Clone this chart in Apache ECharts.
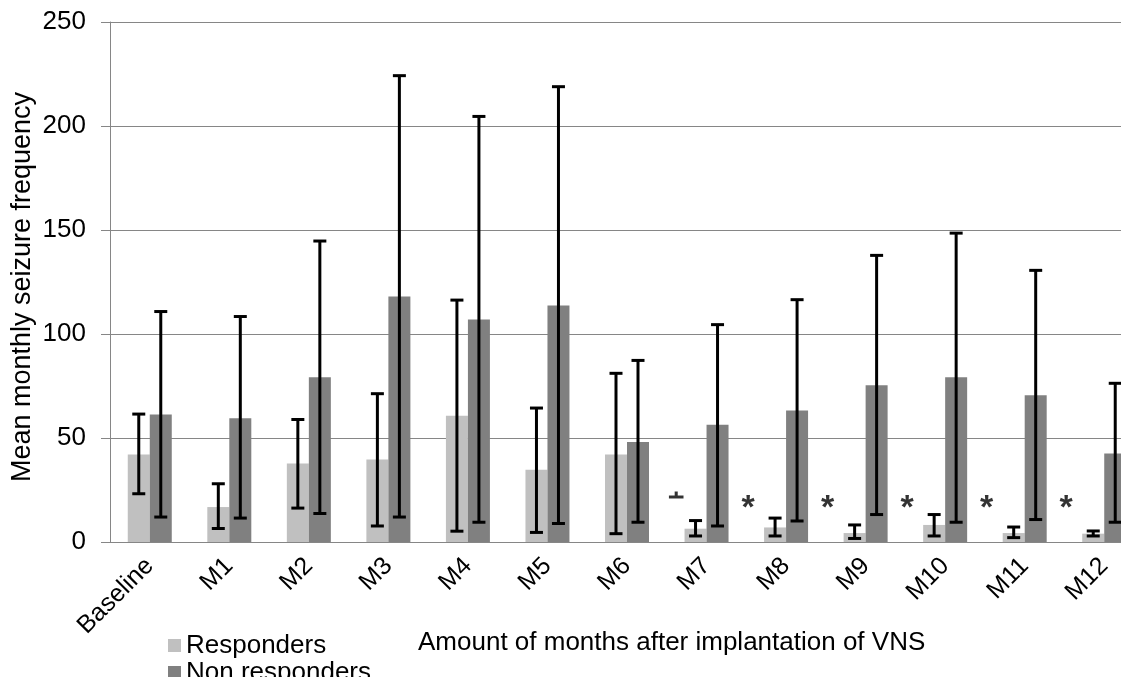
<!DOCTYPE html>
<html>
<head>
<meta charset="utf-8">
<title>Mean monthly seizure frequency</title>
<script src="https://cdn.jsdelivr.net/npm/echarts@6/dist/echarts.min.js"></script>
<style>
  html, body { margin: 0; padding: 0; background: #fff; }
  #chart { width: 1121px; height: 677px; }
</style>
</head>
<body>
<div id="chart"></div>
<script>
// categories on the x axis
var months = ['Baseline', 'M1', 'M2', 'M3', 'M4', 'M5', 'M6', 'M7', 'M8', 'M9', 'M10', 'M11', 'M12'];

// mean monthly seizure frequency
var responders    = [42.1, 16.8, 37.8, 39.7, 60.7, 34.7, 42.1, 6.4, 7.0, 4.3, 8.2, 4.3, 4.0];
var nonResponders = [61.3, 59.5, 79.2, 118.0, 107.0, 113.7, 48.1, 56.4, 63.2, 75.4, 79.2, 70.6, 42.6];

// error bar ends (low / high)
var respLow     = [23.2, 6.5, 16.3, 7.7, 5.2, 4.6, 4.0, 2.9, 2.9, 1.7, 2.9, 2.1, 2.9];
var respHigh    = [61.5, 28.0, 58.9, 71.3, 116.3, 64.4, 81.1, 10.3, 11.5, 8.2, 13.2, 7.2, 5.3];
var nonRespLow  = [12.0, 11.5, 13.7, 12.0, 9.5, 8.9, 9.5, 7.7, 10.1, 13.2, 9.5, 10.8, 9.5];
var nonRespHigh = [110.8, 108.4, 144.7, 224.2, 204.6, 218.9, 87.3, 104.5, 116.5, 137.8, 148.5, 130.6, 76.3];

// significance marks
var sigMonths = ['M7', 'M8', 'M9', 'M10', 'M11', 'M12'];
var sigMarks  = ['\u2238', '*', '*', '*', '*', '*'];
var sigLevel  = 21;

var yTicks = { min: 0, max: 250, interval: 50 };

var FONT = 'Liberation Sans, Arial, sans-serif';
var BAR_W = 22;
var AXIS_GREY = '#868686';

var myChart = echarts.init(document.getElementById('chart'));

function errData(low, high) {
	var out = [];
	for (var i = 0; i < months.length; i++) {
		out.push([i, low[i], high[i]]);
	}
	return out;
}

//draw one error bar, shifted onto its bar
function errorBar(shift) {
	return function(params, api) {
		var lo = api.coord([api.value(0), api.value(1)]);
		var hi = api.coord([api.value(0), api.value(2)]);
		var x = lo[0] + shift;
		var cap = 6.5;
		var st = { stroke: '#000', lineWidth: 3 };
		return {
			type: 'group',
			children: [
				{ type: 'line', shape: { x1: x, y1: hi[1], x2: x, y2: lo[1] }, style: st },
				{ type: 'line', shape: { x1: x - cap, y1: hi[1], x2: x + cap, y2: hi[1] }, style: st },
				{ type: 'line', shape: { x1: x - cap, y1: lo[1], x2: x + cap, y2: lo[1] }, style: st }
			]
		};
	};
}

var sigData = sigMonths.map(function(m, i) {
	var item = { value: [m, sigLevel], label: { formatter: sigMarks[i] } };
	if (sigMarks[i] != '*') {
		item.label.fontSize = 22;
		item.label.offset = [-31, 0];
	}
	return item;
});

var option = {
	animation: false,
	backgroundColor: '#fff',
	textStyle: { fontFamily: FONT },
	//plot runs past the right edge, as in the cropped original
	grid: { left: 110, width: 1034, top: 22, bottom: 135, outerBoundsMode: 'none', containLabel: false },
	legend: {
		data: ['Responders', 'Non responders'],
		orient: 'vertical',
		left: 168,
		top: 632,
		height: 70,
		padding: 0,
		itemGap: 0,
		itemWidth: 13,
		itemHeight: 13,
		icon: 'rect',
		textStyle: { fontFamily: FONT, fontSize: 26, lineHeight: 27, color: '#000' }
	},
	xAxis: {
		type: 'category',
		data: months,
		axisLine: { lineStyle: { color: AXIS_GREY, width: 1 } },
		axisTick: { length: 9, lineStyle: { color: AXIS_GREY } },
		axisLabel: { rotate: 45, margin: 20, fontSize: 25, color: '#000', fontFamily: FONT, interval: 0 }
	},
	yAxis: {
		type: 'value',
		min: yTicks.min,
		max: yTicks.max,
		interval: yTicks.interval,
		axisLine: { show: true, lineStyle: { color: AXIS_GREY, width: 1 } },
		axisTick: { show: true, length: 9, lineStyle: { color: AXIS_GREY } },
		axisLabel: { margin: 24, fontSize: 26, color: '#000', fontFamily: FONT },
		splitLine: { lineStyle: { color: AXIS_GREY, width: 1 } }
	},
	graphic: [
		{
			type: 'text',
			x: 22.5, y: 287,
			rotation: Math.PI / 2,
			style: {
				text: 'Mean monthly seizure frequency',
				font: '27px ' + FONT,
				fill: '#000',
				align: 'center',
				verticalAlign: 'middle'
			}
		},
		{
			type: 'text',
			x: 418, y: 643,
			style: {
				text: 'Amount of months after implantation of VNS',
				font: '26px ' + FONT,
				fill: '#000',
				align: 'left',
				verticalAlign: 'middle'
			}
		}
	],
	series: [
		{
			name: 'Responders',
			type: 'bar',
			data: responders,
			barWidth: BAR_W,
			barGap: '0%',
			itemStyle: { color: '#c0c0c0' }
		},
		{
			name: 'Non responders',
			type: 'bar',
			data: nonResponders,
			barWidth: BAR_W,
			barGap: '0%',
			itemStyle: { color: '#808080' }
		},
		{
			type: 'custom',
			renderItem: errorBar(-BAR_W / 2),
			data: errData(respLow, respHigh),
			encode: { x: 0, y: [1, 2] },
			z: 10
		},
		{
			type: 'custom',
			renderItem: errorBar(BAR_W / 2),
			data: errData(nonRespLow, nonRespHigh),
			encode: { x: 0, y: [1, 2] },
			z: 10
		},
		{
			type: 'scatter',
			data: sigData,
			symbolSize: 0,
			silent: true,
			label: {
				show: true,
				position: 'inside',
				offset: [-38, 10],
				fontSize: 34,
				fontWeight: 'bold',
				color: '#000',
				fontFamily: FONT
			},
			z: 11
		}
	]
};

myChart.setOption(option);
</script>
</body>
</html>
